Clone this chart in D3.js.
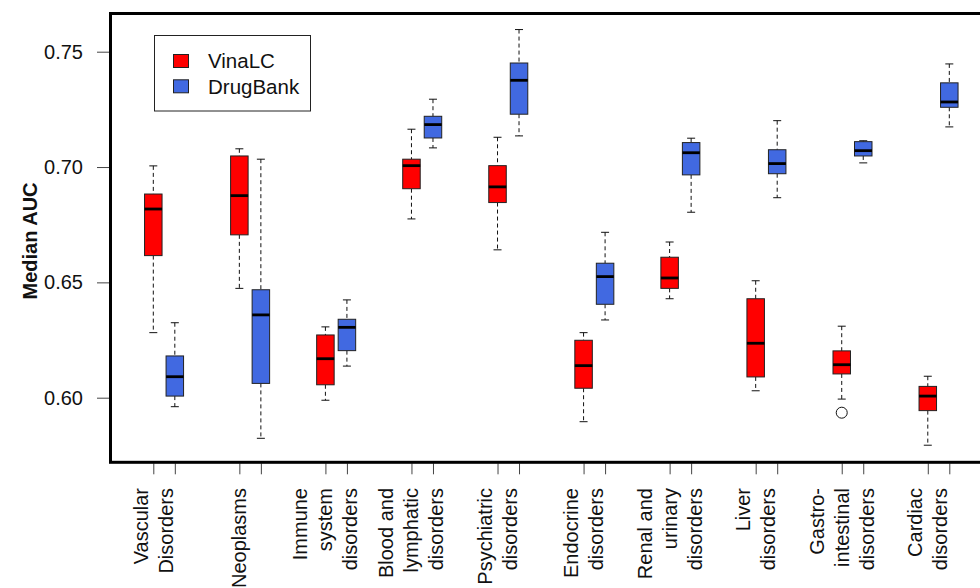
<!DOCTYPE html>
<html>
<head>
<meta charset="utf-8">
<script src="https://cdn.jsdelivr.net/npm/d3@7"></script>
<style>
  html, body { margin: 0; padding: 0; background: #fff; }
  svg { display: block; }
  text { font-family: "Liberation Sans", Arial, Helvetica, sans-serif; }
</style>
</head>
<body>
<svg id="chart" width="980" height="588"></svg>
<script>
// ---- data ----
const categories = [
  ["Vascular", "Disorders"],
  ["Neoplasms"],
  ["Immune", "system", "disorders"],
  ["Blood and", "lymphatic", "disorders"],
  ["Psychiatric", "disorders"],
  ["Endocrine", "disorders"],
  ["Renal and", "urinary", "disorders"],
  ["Liver", "disorders"],
  ["Gastro-", "intestinal", "disorders"],
  ["Cardiac", "disorders"]
];
const seriesNames = ["VinaLC", "DrugBank"];
const seriesColors = ["#ff0000", "#4169e1"];
// [lower whisker, Q1, median, Q3, upper whisker]
const vinaLC = [
  [0.6282, 0.6616, 0.6818, 0.6883, 0.7005],
  [0.6474, 0.6706, 0.6876, 0.7048, 0.7079],
  [0.5989, 0.6056, 0.6169, 0.6272, 0.6307],
  [0.6775, 0.6906, 0.7006, 0.7034, 0.7164],
  [0.6641, 0.6846, 0.6914, 0.7006, 0.7129],
  [0.5896, 0.6041, 0.6139, 0.6249, 0.6282],
  [0.6429, 0.6474, 0.6519, 0.6609, 0.6675],
  [0.6030, 0.6090, 0.6236, 0.6429, 0.6507],
  [0.5994, 0.6103, 0.6143, 0.6203, 0.6310],
  [0.5794, 0.5944, 0.6007, 0.6049, 0.6093]
];
const drugBank = [
  [0.5961, 0.6007, 0.6091, 0.6181, 0.6325],
  [0.5824, 0.6062, 0.6359, 0.6468, 0.7034],
  [0.6137, 0.6204, 0.6305, 0.6340, 0.6424],
  [0.7083, 0.7126, 0.7184, 0.7220, 0.7294],
  [0.7135, 0.7229, 0.7376, 0.7451, 0.7596],
  [0.6337, 0.6405, 0.6525, 0.6583, 0.6717],
  [0.6804, 0.6966, 0.7062, 0.7106, 0.7125],
  [0.6867, 0.6971, 0.7015, 0.7075, 0.7201],
  [0.7018, 0.7048, 0.7071, 0.7110, 0.7114],
  [0.7174, 0.7259, 0.7282, 0.7365, 0.7447]
];
// outliers: [category index, series index, value]
const outliers = [[8, 0, 0.5935]];
const yTicks = [0.60, 0.65, 0.70, 0.75];
const yLabel = "Median AUC";

// ---- layout ----
const svg = d3.select("#chart");
const plot = { left: 110.5, right: 995, top: 13.5, bottom: 462.3 };
const y = d3.scaleLinear().domain([0.60, 0.75]).range([397.7, 51.7]);
const x = d3.scaleLinear().domain([1, 38]).range([153.3, 949.3]);
const boxW = 17.5, capW = 8;

const series = [vinaLC, drugBank];
const boxes = [];
categories.forEach((c, i) => {
  series.forEach((s, k) => {
    boxes.push({ cat: i, ser: k, pos: 4 * i + 1 + k, st: s[i] });
  });
});

// y axis
const yAxis = d3.axisLeft(y).tickValues(yTicks).tickFormat(d3.format(".2f")).tickSize(13).tickPadding(14);
const gy = svg.append("g").attr("transform", `translate(${plot.left - 0.5},0)`).call(yAxis);
gy.select(".domain").remove();
gy.selectAll(".tick line").attr("stroke", "#444").attr("stroke-width", 1);
gy.selectAll(".tick text").attr("font-size", 20).attr("fill", "#111")
  .attr("font-family", '"Liberation Sans", Arial, sans-serif');

// x axis ticks
const xAxis = d3.axisBottom(x).tickValues(boxes.map(b => b.pos)).tickSize(11).tickFormat("");
const gx = svg.append("g").attr("transform", `translate(0,${plot.bottom + 1})`).call(xAxis);
gx.select(".domain").remove();
gx.selectAll(".tick line").attr("stroke", "#444").attr("stroke-width", 1);

// x labels
const lineH = 25;
categories.forEach((lines, i) => {
  const cx = x(4 * i + 1);
  const n = lines.length;
  lines.forEach((t, j) => {
    const off = (j - (n - 1) / 2) * lineH;
    svg.append("text")
      .attr("transform", `translate(${cx + off + 7},488) rotate(-90)`)
      .attr("text-anchor", "end")
      .attr("font-size", 20)
      .attr("fill", "#111")
      .text(t);
  });
});

// y label
svg.append("text")
  .attr("transform", `translate(37,241) rotate(-90)`)
  .attr("text-anchor", "middle")
  .attr("font-size", 20)
  .attr("font-weight", "bold")
  .attr("fill", "#111")
  .text(yLabel);

// boxes
const g = svg.append("g");
boxes.forEach(b => {
  const [lo, q1, med, q3, hi] = b.st;
  const cx = x(b.pos);
  // whiskers (dashed)
  g.append("line").attr("x1", cx).attr("x2", cx).attr("y1", y(hi)).attr("y2", y(q3))
    .attr("stroke", "#111").attr("stroke-width", 1).attr("stroke-dasharray", "4,3");
  g.append("line").attr("x1", cx).attr("x2", cx).attr("y1", y(q1)).attr("y2", y(lo))
    .attr("stroke", "#111").attr("stroke-width", 1).attr("stroke-dasharray", "4,3");
  // caps
  [lo, hi].forEach(v => {
    g.append("line").attr("x1", cx - capW / 2).attr("x2", cx + capW / 2)
      .attr("y1", y(v)).attr("y2", y(v)).attr("stroke", "#111").attr("stroke-width", 1);
  });
  // box
  g.append("rect").attr("x", cx - boxW / 2).attr("y", y(q3))
    .attr("width", boxW).attr("height", y(q1) - y(q3))
    .attr("fill", seriesColors[b.ser]).attr("stroke", "#222").attr("stroke-width", 1);
  // median
  g.append("line").attr("x1", cx - boxW / 2).attr("x2", cx + boxW / 2)
    .attr("y1", y(med)).attr("y2", y(med)).attr("stroke", "#000").attr("stroke-width", 2.8);
});

// outliers
outliers.forEach(([ci, si, v]) => {
  g.append("circle").attr("cx", x(4 * ci + 1 + si)).attr("cy", y(v)).attr("r", 5.5)
    .attr("fill", "none").attr("stroke", "#111").attr("stroke-width", 1);
});

// plot frame
svg.append("rect").attr("x", plot.left).attr("y", plot.top)
  .attr("width", plot.right - plot.left).attr("height", plot.bottom - plot.top)
  .attr("fill", "none").attr("stroke", "#000").attr("stroke-width", 3);

// legend
const lg = svg.append("g");
lg.append("rect").attr("x", 154.5).attr("y", 35.5).attr("width", 156).attr("height", 75.5)
  .attr("fill", "#fff").attr("stroke", "#222").attr("stroke-width", 1);
seriesNames.forEach((nm, k) => {
  lg.append("rect").attr("x", 173.5).attr("y", 54.5 + k * 25.3).attr("width", 15).attr("height", 13)
    .attr("fill", seriesColors[k]).attr("stroke", "#222").attr("stroke-width", 1);
  lg.append("text").attr("x", 208).attr("y", 68.3 + k * 25.3)
    .attr("font-size", 20.5).attr("fill", "#111").text(nm);
});
</script>
</body>
</html>
